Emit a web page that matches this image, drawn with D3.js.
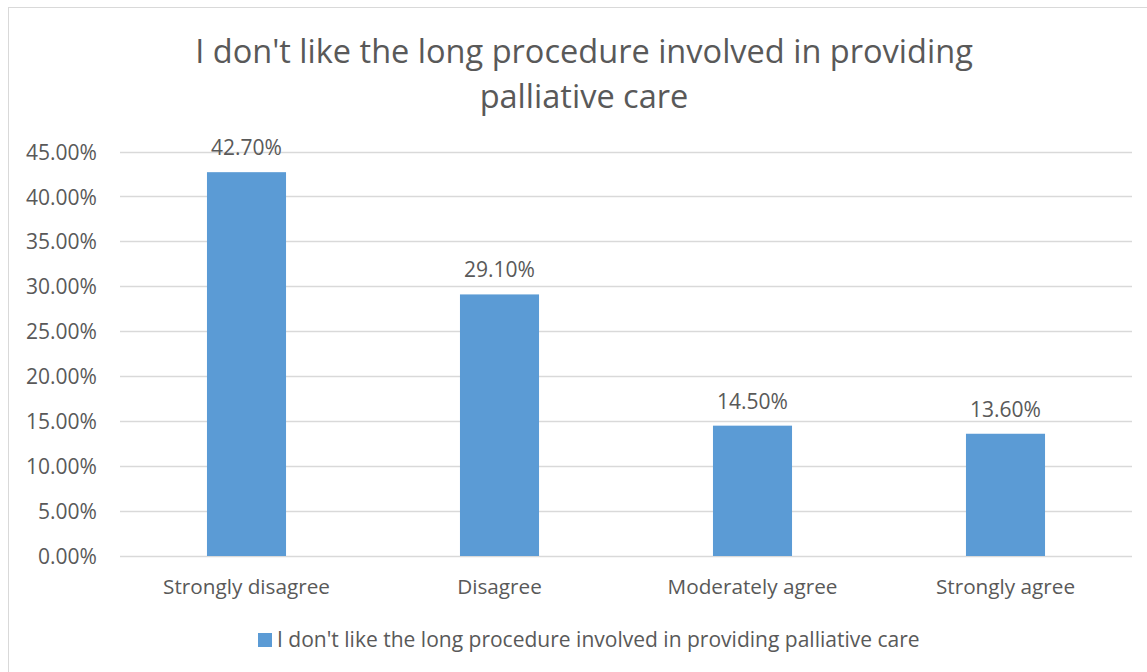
<!DOCTYPE html>
<html>
<head>
<meta charset="utf-8">
<script src="https://cdn.jsdelivr.net/npm/d3@7"></script>
<style>
  html, body { margin: 0; padding: 0; background: #ffffff; }
  svg { display: block; font-family: "Open Sans", sans-serif; }
</style>
</head>
<body>
<svg id="chart" width="1147" height="672"></svg>
<script>
// Survey responses
const categories = ["Strongly disagree", "Disagree", "Moderately agree", "Strongly agree"];
const values = [42.7, 29.1, 14.5, 13.6];
const tickValues = [0, 5, 10, 15, 20, 25, 30, 35, 40, 45];
const titleLines = ["I don't like the long procedure involved in providing", "palliative care"];
const seriesName = "I don't like the long procedure involved in providing palliative care";

const W = 1147, H = 672;
const margin = { left: 120, right: 15, top: 151.5, bottom: 116 };
const textColor = "#595959";
const barColor = "#5b9bd5";
const gridColor = "#d9d9d9";
const FONT = "'Open Sans', sans-serif";

const svg = d3.select("#chart");

// Pick a font size so that a sample string spans the given width
function fitSize(sample, width, base) {
  const t = svg.append("text").style("font-family", FONT).style("font-size", base + "px").text(sample);
  const w = t.node().getComputedTextLength();
  t.remove();
  return base * width / w;
}
const titleSize = fitSize(titleLines[0], 778, 30);
const tickSize = fitSize("45.00%", 71, 18);
const catSize = fitSize("Strongly disagree", 167, 18);
const labelSize = fitSize("42.70%", 71, 18);
const legendSize = fitSize(seriesName, 643, 18);

// outer chart frame
svg.append("rect")
  .attr("x", 8.5).attr("y", 7.5)
  .attr("width", W + 20).attr("height", H + 20)
  .attr("fill", "#fff").attr("stroke", "#d9d9d9").attr("stroke-width", 1);

const x = d3.scaleBand()
  .domain(categories)
  .range([margin.left, W - margin.right])
  .paddingInner(0.6875).paddingOuter(0.34375);

const y = d3.scaleLinear()
  .domain([0, 45])
  .range([H - margin.bottom, margin.top]);

// horizontal gridlines
svg.append("g")
  .selectAll("line")
  .data(tickValues)
  .join("line")
  .attr("x1", margin.left).attr("x2", W - margin.right)
  .attr("y1", d => Math.round(y(d)) + 0.5).attr("y2", d => Math.round(y(d)) + 0.5)
  .attr("stroke", gridColor).attr("stroke-width", 1.5);

// y axis labels
const yAxis = d3.axisLeft(y)
  .tickValues(tickValues)
  .tickFormat(d => d.toFixed(2) + "%")
  .tickSize(0).tickPadding(23);
const gy = svg.append("g")
  .attr("transform", `translate(${margin.left},0)`)
  .call(yAxis);
gy.select(".domain").remove();
gy.selectAll("text")
  .attr("fill", textColor)
  .attr("dy", "0.36em")
  .style("font-size", tickSize + "px")
  .style("font-family", FONT);

// x axis labels
const xAxis = d3.axisBottom(x).tickSize(0).tickPadding(0);
const gx = svg.append("g")
  .attr("transform", `translate(0,${y(0)})`)
  .call(xAxis);
gx.select(".domain").remove();
gx.selectAll("text")
  .attr("fill", textColor)
  .attr("y", 594 - y(0))
  .attr("dy", null)
  .style("font-size", catSize + "px")
  .style("font-family", FONT);

// bars
svg.append("g")
  .selectAll("rect")
  .data(values)
  .join("rect")
  .attr("x", (d, i) => x(categories[i]))
  .attr("width", x.bandwidth())
  .attr("y", d => y(d))
  .attr("height", d => y(0) - y(d))
  .attr("fill", barColor);

// value labels
svg.append("g")
  .selectAll("text")
  .data(values)
  .join("text")
  .attr("x", (d, i) => x(categories[i]) + x.bandwidth() / 2)
  .attr("y", d => y(d) - 17)
  .attr("text-anchor", "middle")
  .attr("fill", textColor)
  .style("font-size", labelSize + "px")
  .text(d => d.toFixed(2) + "%");

// title
svg.append("g")
  .selectAll("text")
  .data(titleLines)
  .join("text")
  .attr("x", 584)
  .attr("y", (d, i) => 63 + i * 45)
  .attr("text-anchor", "middle")
  .attr("fill", textColor)
  .style("font-size", titleSize + "px")
  .text(d => d);

// legend
const legend = svg.append("g");
legend.append("rect")
  .attr("x", 258).attr("y", 633)
  .attr("width", 14).attr("height", 14)
  .attr("fill", barColor);
legend.append("text")
  .attr("x", 277).attr("y", 647)
  .attr("fill", textColor)
  .style("font-size", legendSize + "px")
  .text(seriesName);
</script>
</body>
</html>
